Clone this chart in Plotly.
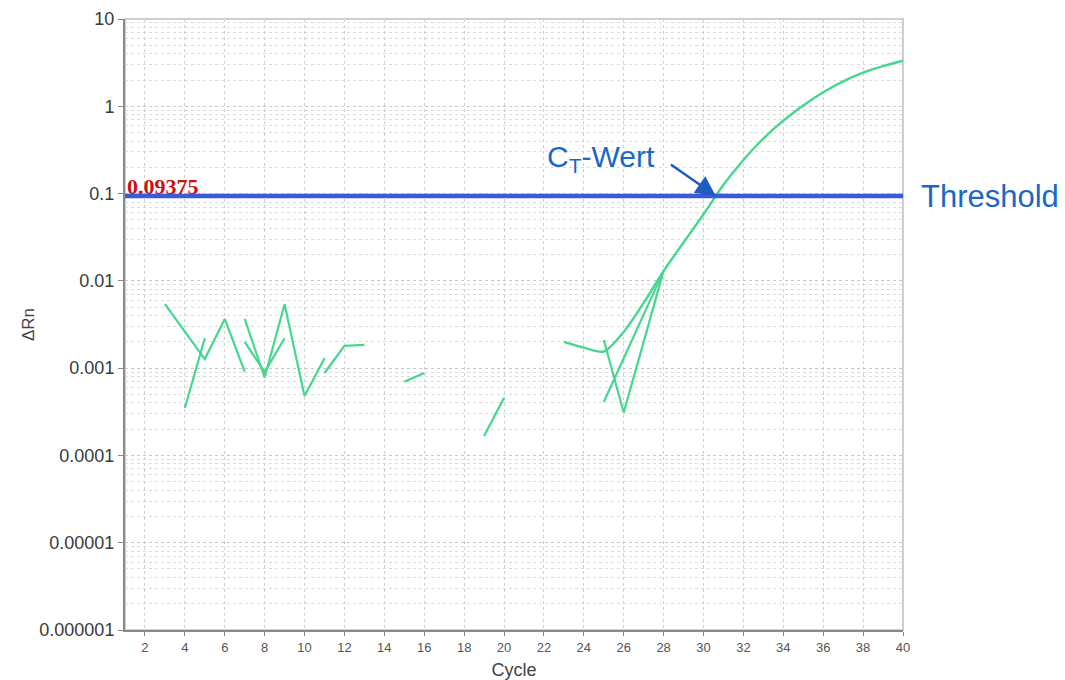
import math
import plotly.graph_objects as go

# ---------------- data ----------------
threshold = 0.09375

seg1_x = [3, 5, 6, 7]
seg1_y = [0.0054, 0.00127, 0.00366, 0.00091]
seg2_x = [4, 5]
seg2_y = [0.00035, 0.0022]
seg3_x = [7, 8, 9, 10, 11]
seg3_y = [0.00366, 0.00078, 0.0054, 0.00048, 0.0013]
seg4_x = [7, 8, 9]
seg4_y = [0.002, 0.0009, 0.0022]
seg5_x = [11, 12, 13]
seg5_y = [0.00088, 0.0018, 0.00185]
seg6_x = [15, 16]
seg6_y = [0.0007, 0.00088]
seg7_x = [19, 20]
seg7_y = [0.000167, 0.000457]
segB_x = [25, 26, 27, 28]
segB_y = [0.0021, 0.00031, 0.002, 0.013]
segC_x = [25, 26, 27, 28]
segC_y = [0.00041, 0.00128, 0.004, 0.013]
main_x = list(range(23, 41))
main_y = [0.0020, 0.00172, 0.00155, 0.0026, 0.0056, 0.013, 0.0275, 0.058, 0.126,
          0.243, 0.427, 0.684, 1.02, 1.445, 1.93, 2.43, 2.88, 3.33]

x_ticks = list(range(2, 41, 2))
y_tickvals = [1e-6, 1e-5, 1e-4, 1e-3, 1e-2, 1e-1, 1, 10]
y_ticktext = ["0.000001", "0.00001", "0.0001", "0.001", "0.01", "0.1", "1", "10"]

# ---------------- styles ----------------
GREEN = "#45d78f"
BLUE_LINE = "#3a5bd9"
BLUE_TEXT = "#1a68c6"

fig = go.Figure()

segments = [(seg1_x, seg1_y), (seg2_x, seg2_y), (seg3_x, seg3_y), (seg4_x, seg4_y),
            (seg5_x, seg5_y), (seg6_x, seg6_y), (seg7_x, seg7_y),
            (segB_x, segB_y), (segC_x, segC_y)]
for xs, ys in segments:
    fig.add_trace(go.Scatter(x=xs, y=ys, mode="lines",
                             line=dict(color=GREEN, width=2.2),
                             showlegend=False, hoverinfo="skip"))
fig.add_trace(go.Scatter(x=main_x, y=main_y, mode="lines",
                         line=dict(color=GREEN, width=2.4, shape="spline", smoothing=0.8),
                         showlegend=False, hoverinfo="skip"))

fig.add_trace(go.Scatter(x=[1, 40], y=[threshold, threshold], mode="lines",
                         line=dict(color=BLUE_LINE, width=4.5),
                         showlegend=False, hoverinfo="skip"))

lt = math.log10(threshold)

fig.add_annotation(x=1, y=lt, xref="x", yref="y", text="<b>0.09375</b>",
                   showarrow=False, xanchor="left", yanchor="bottom", xshift=0, yshift=-5,
                   font=dict(family="Liberation Serif", size=22, color="#cc1111"))
fig.add_annotation(x=1.0205, y=lt, xref="paper", yref="y", text="Threshold",
                   showarrow=False, xanchor="left", yanchor="middle",
                   font=dict(family="Liberation Sans", size=31, color=BLUE_TEXT))
fig.add_annotation(x=27.67, y=-0.60, xref="x", yref="y", text="C<sub>T</sub>-Wert",
                   showarrow=False, xanchor="right", yanchor="middle",
                   font=dict(family="Liberation Sans", size=30, color=BLUE_TEXT))
fig.add_annotation(x=30.62, y=lt, xref="x", yref="y", text=" ",
                   font=dict(size=2),
                   showarrow=True, ax=-47, ay=-33, arrowhead=2, arrowsize=1.6,
                   arrowwidth=2.5, arrowcolor="#1f5cbf", standoff=0, startstandoff=0)

# frame (top/right light)
fig.add_shape(type="rect", xref="paper", yref="paper", x0=0, x1=1, y0=0, y1=1,
              line=dict(color="#cfcfcf", width=2), layer="below")

fig.update_layout(
    width=1065, height=680,
    margin=dict(l=125, r=162, t=19, b=50),
    paper_bgcolor="white", plot_bgcolor="white",
    font=dict(family="Liberation Sans", color="#444"),
)
fig.update_xaxes(
    range=[1, 40], tickvals=x_ticks, ticks="outside", ticklen=4, tickcolor="#888",
    showline=True, linecolor="#8a8a8a", linewidth=2, automargin=False,
    showgrid=True, gridcolor="#cfcfcf", griddash="dot", gridwidth=1,
    zeroline=False, tickfont=dict(size=13, color="#555"),
    title=dict(text="Cycle", font=dict(size=18, color="#444"), standoff=10),
)
fig.update_yaxes(
    type="log", range=[-6, 1], tickvals=y_tickvals, ticktext=y_ticktext,
    ticks="outside", ticklen=5, tickcolor="#888", automargin=False,
    showline=True, linecolor="#8a8a8a", linewidth=2,
    showgrid=True, gridcolor="#c8c8c8", griddash="dot", gridwidth=1,
    minor=dict(dtick="D1", showgrid=True, gridcolor="#dcdcdc", griddash="dot", ticks=""),
    zeroline=False, tickfont=dict(size=18, color="#3a3a3a"),
    title=dict(text="ΔRn", font=dict(size=17, color="#444"), standoff=0),
)

fig.write_html("out.html")
